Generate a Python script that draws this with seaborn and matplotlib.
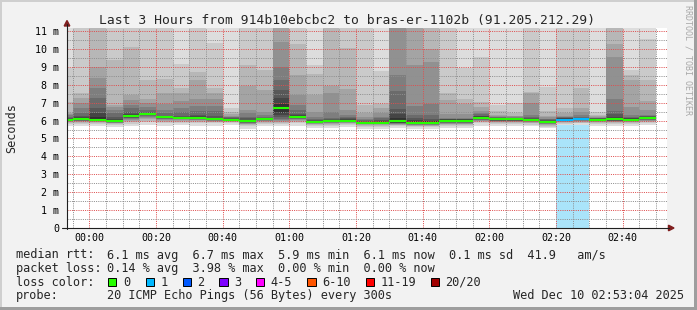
import numpy as np
import matplotlib
matplotlib.use("Agg")
import matplotlib.pyplot as plt
import seaborn as sns
from matplotlib.ticker import MultipleLocator
from matplotlib.patches import Rectangle, Polygon
from matplotlib.lines import Line2D

# ------------------------------------------------------------------ data
# start of each 5-minute step, minutes after 00:00
bar_start = [-10, -5, 0, 5, 10, 15, 20, 25, 30, 35, 40, 45, 50, 55, 60, 65, 70, 75,
             80, 85, 90, 95, 100, 105, 110, 115, 120, 125, 130, 135, 140, 145, 150,
             155, 160, 165]

# 20 sorted ping RTTs per step (ms)
pings = [
    [5.70, 5.80, 5.85, 5.90, 5.93, 5.96, 5.98, 6.00, 6.01, 6.02, 6.07, 6.10, 6.15, 6.20, 6.30, 6.35, 6.40, 7.05, 8.95, 11.60],
    [5.72, 5.82, 5.88, 5.92, 5.95, 5.98, 6.00, 6.02, 6.03, 6.04, 6.10, 6.18, 6.27, 6.40, 6.68, 6.96, 7.24, 7.52, 11.60, 12.00],
    [5.70, 5.80, 5.86, 5.90, 5.93, 5.95, 5.97, 5.99, 6.00, 6.02, 6.21, 6.40, 6.72, 7.28, 7.80, 8.36, 9.00, 11.50, 12.00, 12.50],
    [5.62, 5.74, 5.80, 5.84, 5.87, 5.89, 5.91, 5.93, 5.94, 5.95, 6.03, 6.08, 6.21, 6.40, 6.59, 6.77, 6.87, 9.38, 11.60, 12.20],
    [5.70, 5.82, 5.90, 5.96, 6.02, 6.08, 6.12, 6.16, 6.19, 6.22, 6.32, 6.38, 6.46, 6.68, 6.87, 7.15, 7.42, 10.12, 11.60, 12.20],
    [5.75, 5.90, 6.00, 6.08, 6.14, 6.20, 6.25, 6.29, 6.32, 6.35, 6.42, 6.44, 6.46, 6.59, 6.77, 6.96, 7.20, 8.26, 11.60, 12.20],
    [5.70, 5.84, 5.92, 5.98, 6.03, 6.07, 6.10, 6.14, 6.17, 6.19, 6.23, 6.25, 6.27, 6.40, 6.59, 6.90, 7.52, 8.32, 11.60, 12.20],
    [5.75, 5.86, 5.93, 5.98, 6.02, 6.06, 6.09, 6.11, 6.13, 6.14, 6.19, 6.22, 6.27, 6.46, 6.68, 7.09, 7.52, 7.80, 9.14, 11.80],
    [5.72, 5.85, 5.92, 5.97, 6.01, 6.05, 6.08, 6.10, 6.12, 6.13, 6.19, 6.24, 6.31, 6.53, 6.83, 7.20, 8.26, 8.73, 11.60, 12.20],
    [5.72, 5.84, 5.90, 5.94, 5.97, 5.99, 6.01, 6.03, 6.04, 6.05, 6.10, 6.15, 6.27, 6.53, 6.83, 7.20, 7.52, 7.80, 10.31, 11.80],
    [5.74, 5.84, 5.90, 5.94, 5.97, 5.99, 6.00, 6.01, 6.02, 6.03, 6.08, 6.11, 6.14, 6.18, 6.22, 6.28, 6.35, 6.46, 6.68, 11.80],
    [5.55, 5.68, 5.75, 5.80, 5.83, 5.86, 5.88, 5.90, 5.91, 5.92, 6.00, 6.05, 6.12, 6.22, 6.40, 6.60, 7.93, 9.10, 11.60, 12.20],
    [5.70, 5.82, 5.88, 5.93, 5.96, 5.99, 6.01, 6.03, 6.04, 6.05, 6.11, 6.14, 6.17, 6.22, 6.31, 6.46, 7.70, 8.82, 11.60, 12.20],
    [5.72, 5.82, 5.88, 5.92, 5.96, 6.02, 6.10, 6.20, 6.30, 6.45, 6.95, 7.28, 7.70, 8.26, 9.00, 10.37, 11.50, 11.80, 12.20, 12.60],
    [5.70, 5.84, 5.92, 5.98, 6.03, 6.07, 6.11, 6.14, 6.16, 6.18, 6.25, 6.30, 6.35, 6.59, 6.87, 7.42, 8.54, 10.26, 11.60, 12.20],
    [5.58, 5.70, 5.76, 5.80, 5.83, 5.86, 5.88, 5.89, 5.90, 5.91, 5.97, 6.00, 6.04, 6.10, 6.21, 6.46, 7.42, 8.58, 9.10, 11.80],
    [5.60, 5.72, 5.78, 5.83, 5.86, 5.89, 5.91, 5.93, 5.94, 5.95, 6.01, 6.04, 6.08, 6.16, 6.46, 7.52, 7.95, 11.50, 11.80, 12.20],
    [5.62, 5.74, 5.80, 5.85, 5.88, 5.91, 5.93, 5.95, 5.96, 5.97, 6.03, 6.06, 6.12, 6.20, 6.31, 6.59, 7.75, 10.05, 11.60, 12.20],
    [5.55, 5.66, 5.72, 5.76, 5.79, 5.81, 5.83, 5.84, 5.85, 5.86, 5.91, 5.94, 5.97, 6.02, 6.10, 6.22, 6.45, 6.87, 11.60, 12.20],
    [5.55, 5.66, 5.72, 5.76, 5.79, 5.81, 5.83, 5.84, 5.85, 5.86, 5.92, 5.98, 6.05, 6.12, 6.20, 6.40, 6.68, 6.93, 8.78, 11.80],
    [5.58, 5.68, 5.74, 5.78, 5.81, 5.83, 5.85, 5.87, 5.88, 5.90, 6.12, 6.34, 6.64, 7.65, 8.54, 11.40, 11.60, 11.80, 12.20, 12.60],
    [5.52, 5.62, 5.68, 5.72, 5.75, 5.78, 5.80, 5.82, 5.83, 5.84, 5.96, 6.05, 6.15, 6.32, 6.80, 9.08, 11.50, 11.80, 12.20, 12.60],
    [5.52, 5.62, 5.68, 5.72, 5.75, 5.78, 5.80, 5.82, 5.83, 5.84, 5.95, 6.00, 6.10, 6.30, 6.90, 9.29, 10.00, 11.60, 12.00, 12.40],
    [5.60, 5.70, 5.76, 5.80, 5.83, 5.86, 5.88, 5.90, 5.92, 5.94, 6.04, 6.06, 6.08, 6.10, 6.12, 6.35, 7.15, 7.54, 11.60, 12.20],
    [5.60, 5.70, 5.76, 5.80, 5.83, 5.86, 5.88, 5.90, 5.92, 5.94, 6.04, 6.06, 6.08, 6.10, 6.14, 6.35, 6.95, 7.20, 8.94, 11.80],
    [5.72, 5.84, 5.90, 5.95, 5.99, 6.02, 6.05, 6.08, 6.10, 6.12, 6.20, 6.24, 6.27, 6.34, 6.42, 6.53, 6.77, 7.02, 9.53, 11.80],
    [5.70, 5.80, 5.86, 5.90, 5.93, 5.96, 5.98, 6.00, 6.01, 6.02, 6.09, 6.12, 6.15, 6.18, 6.21, 6.26, 6.33, 6.55, 6.86, 11.80],
    [5.70, 5.80, 5.86, 5.90, 5.93, 5.96, 5.98, 6.00, 6.01, 6.02, 6.09, 6.11, 6.13, 6.16, 6.19, 6.23, 6.28, 6.45, 6.98, 11.80],
    [5.68, 5.78, 5.84, 5.88, 5.91, 5.94, 5.96, 5.98, 5.99, 6.00, 6.07, 6.10, 6.14, 6.20, 6.31, 6.97, 7.55, 7.62, 11.60, 12.20],
    [5.56, 5.66, 5.72, 5.76, 5.79, 5.82, 5.84, 5.86, 5.87, 5.88, 5.98, 6.00, 6.03, 6.06, 6.10, 6.20, 6.28, 6.52, 7.85, 11.80],
    [5.75, 5.82, 5.86, 5.90, 5.93, 5.96, 5.98, 6.00, 6.01, 6.02, 6.08, 6.12, 6.15, 6.18, 6.22, 6.28, 6.40, 6.70, 11.60, 12.20],
    [5.75, 5.84, 5.89, 5.93, 5.96, 5.99, 6.01, 6.03, 6.04, 6.05, 6.12, 6.14, 6.16, 6.20, 6.31, 6.46, 6.70, 7.80, 11.60, 12.20],
    [5.72, 5.80, 5.86, 5.90, 5.93, 5.96, 5.98, 6.00, 6.01, 6.02, 6.08, 6.10, 6.12, 6.14, 6.17, 6.20, 6.25, 6.33, 6.50, 11.80],
    [5.70, 5.80, 5.86, 5.90, 5.93, 5.96, 5.98, 6.00, 6.01, 6.02, 6.10, 6.18, 6.34, 6.56, 7.20, 9.55, 10.28, 11.60, 12.00, 12.40],
    [5.70, 5.80, 5.86, 5.90, 5.93, 5.96, 5.98, 6.00, 6.01, 6.02, 6.09, 6.12, 6.16, 6.22, 6.31, 6.75, 8.27, 8.55, 8.80, 11.80],
    [5.75, 5.85, 5.91, 5.95, 5.98, 6.01, 6.04, 6.06, 6.08, 6.09, 6.16, 6.19, 6.23, 6.28, 6.31, 6.59, 7.08, 8.27, 10.55, 11.80],
]

median_rtt = [6.04, 6.07, 6.05, 5.97, 6.27, 6.38, 6.21, 6.16, 6.15, 6.07, 6.05, 5.95,
              6.08, 6.68, 6.21, 5.93, 5.97, 6.00, 5.88, 5.89, 5.99, 5.89, 5.89, 5.99,
              5.99, 6.16, 6.06, 6.06, 6.04, 5.93, 6.05, 6.09, 6.05, 6.06, 6.05, 6.12]

loss_count = [0, 0, 0, 0, 0, 0, 0, 0, 0, 0, 0, 0, 0, 0, 0, 0, 0, 0,
              0, 0, 0, 0, 0, 0, 0, 0, 0, 0, 0, 0, 1, 1, 0, 0, 0, 0]

x_tick_minutes = [0, 20, 40, 60, 80, 100, 120, 140, 160]
x_tick_labels = ["00:00", "00:20", "00:40", "01:00", "01:20", "01:40", "02:00", "02:20", "02:40"]
y_tick_values = [0, 1, 2, 3, 4, 5, 6, 7, 8, 9, 10, 11]
y_tick_labels = ["0", "1 m", "2 m", "3 m", "4 m", "5 m", "6 m", "7 m", "8 m", "9 m", "10 m", "11 m"]

title = "Last 3 Hours from 914b10ebcbc2 to bras-er-1102b (91.205.212.29)"
rtt_stats = ["6.1 ms avg", "6.7 ms max", "5.9 ms min", "6.1 ms now", "0.1 ms sd", "41.9   am/s"]
loss_stats = ["0.14 % avg", "3.98 % max", "0.00 % min", "0.00 % now"]
loss_legend = ["0", "1", "2", "3", "4-5", "6-10", "11-19", "20/20"]
loss_legend_colors = ["#26ff00", "#00b8ff", "#0059ff", "#7e00ff", "#ff00ff", "#ff5500", "#ff0000", "#a10000"]
probe_text = "20 ICMP Echo Pings (56 Bytes) every 300s"
stamp_text = "Wed Dec 10 02:53:04 2025"

# ------------------------------------------------------------------ style
smoke_colors = ["#dddddd", "#cacaca", "#b7b7b7", "#a4a4a4", "#919191",
                "#7e7e7e", "#6b6b6b", "#585858", "#454545", "#323232"]
loss_bg = "#aae4fa"
grid_col = (0.56, 0.56, 0.56, 0.55)
mgrid_col = (0.87, 0.31, 0.31, 0.45)
axis_col = "#1f1f1f"
arrow_col = "#801f1f"
back_col = "#f2f2f2"

W, H = 697, 310
sns.set_style("white")
plt.rcParams["font.family"] = ["DejaVu Sans Mono", "DejaVu Sans"]

fig = plt.figure(figsize=(W / 100, H / 100), dpi=100, facecolor=back_col)

def fx(x):
    return x / W

def fy(y):
    return 1 - y / H

ax = fig.add_axes([fx(67), fy(228), fx(667) - fx(67), fy(28) - fy(228)])
ax.set_facecolor("white")
YMAX = 11.17
ax.set_xlim(-6.69, 173.31)
ax.set_ylim(0, YMAX)

P = np.array(pings)
starts = np.array(bar_start, dtype=float)
loss = np.array(loss_count)

# loss background
ax.bar(starts[loss > 0], YMAX, bottom=0, width=5, align="edge",
       color=loss_bg, linewidth=0, antialiased=False, zorder=1)

# smoke layers (outermost lightest)
for i in range(10):
    lo = P[:, i]
    hi = P[:, 19 - i]
    ax.bar(starts, hi - lo, bottom=lo, width=5, align="edge",
           color=smoke_colors[i], linewidth=0, antialiased=False, zorder=2)

# median lines
line_cols = [loss_legend_colors[min(l, 7)] for l in loss_count]
ax.hlines(median_rtt, starts, starts + 5, colors=line_cols, linewidth=1.5, zorder=4)

# grid
ax.set_xticks(x_tick_minutes)
ax.set_xticklabels(x_tick_labels)
ax.xaxis.set_minor_locator(MultipleLocator(5))
ax.set_yticks(y_tick_values)
ax.set_yticklabels(y_tick_labels)
ax.yaxis.set_minor_locator(MultipleLocator(0.5))
ax.set_axisbelow(False)
ax.grid(which="major", color=mgrid_col, linewidth=0.72, linestyle=(0, (1, 1.2)))
ax.grid(which="minor", color=grid_col, linewidth=0.72, linestyle=(0, (1, 1.2)))
ax.tick_params(which="major", axis="x", length=2.2, width=0.72, color=mgrid_col,
               labelsize=7.2, pad=1.2, labelcolor="black")
ax.tick_params(which="major", axis="y", length=2.2, width=0.72, color=mgrid_col,
               labelsize=7.2, pad=3.6, labelcolor="black")
ax.tick_params(which="minor", length=0)
for s in ax.spines.values():
    s.set_visible(False)

# axes lines and arrows
fig.add_artist(Line2D([fx(67), fx(67)], [fy(228.5), fy(24)], color=axis_col, lw=0.8))
fig.add_artist(Line2D([fx(62), fx(669)], [fy(228), fy(228)], color=axis_col, lw=0.8))
fig.add_artist(Polygon([(fx(64.2), fy(26)), (fx(69.8), fy(26)), (fx(67), fy(20.5))],
                       closed=True, color=arrow_col, transform=fig.transFigure))
fig.add_artist(Polygon([(fx(668.5), fy(225.2)), (fx(668.5), fy(230.8)), (fx(674), fy(228))],
                       closed=True, color=arrow_col, transform=fig.transFigure))

# frame shading
fig.add_artist(Rectangle((0, fy(2)), 1, 2 / H, color="#cfcfcf", transform=fig.transFigure, lw=0))
fig.add_artist(Rectangle((0, 0), 2 / W, 1, color="#cfcfcf", transform=fig.transFigure, lw=0))
fig.add_artist(Rectangle((fx(694), 0), 3 / W, 1, color="#9e9e9e", transform=fig.transFigure, lw=0))
fig.add_artist(Rectangle((0, 0), 1, 3 / H, color="#9e9e9e", transform=fig.transFigure, lw=0))

# texts
fig.text(fx(347.5), fy(24), title, ha="center", va="baseline", fontsize=9.4)
fig.text(fx(11.5), fy(128), "Seconds", rotation=90, ha="center", va="center", fontsize=8.5)
fig.text(fx(688), fy(60), "RRDTOOL / TOBI OETIKER", rotation=270, ha="center", va="center",
         fontsize=6.0, color="#a8a8a8")

LFS = 8.57
b1, b2, b3, b4 = 258.5, 272.2, 285.9, 299.4
fig.text(fx(16), fy(b1), "median rtt:", fontsize=LFS, va="baseline")
fig.text(fx(107.3), fy(b1), "  ".join(rtt_stats), fontsize=LFS, va="baseline")
fig.text(fx(16), fy(b2), "packet loss:", fontsize=LFS, va="baseline")
fig.text(fx(107.3), fy(b2), "  ".join(loss_stats), fontsize=LFS, va="baseline")
fig.text(fx(16), fy(b3), "loss color:", fontsize=LFS, va="baseline")
box_x = [108.3, 145.7, 182.7, 219.3, 256.0, 307.3, 365.7, 430.7]
for bx, lab, col in zip(box_x, loss_legend, loss_legend_colors):
    fig.add_artist(Rectangle((fx(bx), fy(286.2)), 8.2 / W, 8.2 / H, facecolor=col,
                             edgecolor="black", lw=0.7, transform=fig.transFigure))
    fig.text(fx(bx + 14.5), fy(b3), lab, fontsize=LFS, va="baseline")
fig.text(fx(16), fy(b4), "probe:", fontsize=LFS, va="baseline")
fig.text(fx(107.3), fy(b4), probe_text, fontsize=LFS, va="baseline")
fig.text(fx(513.3), fy(b4), stamp_text, fontsize=LFS, va="baseline")

fig.savefig("out.png", dpi=100, facecolor=back_col)
